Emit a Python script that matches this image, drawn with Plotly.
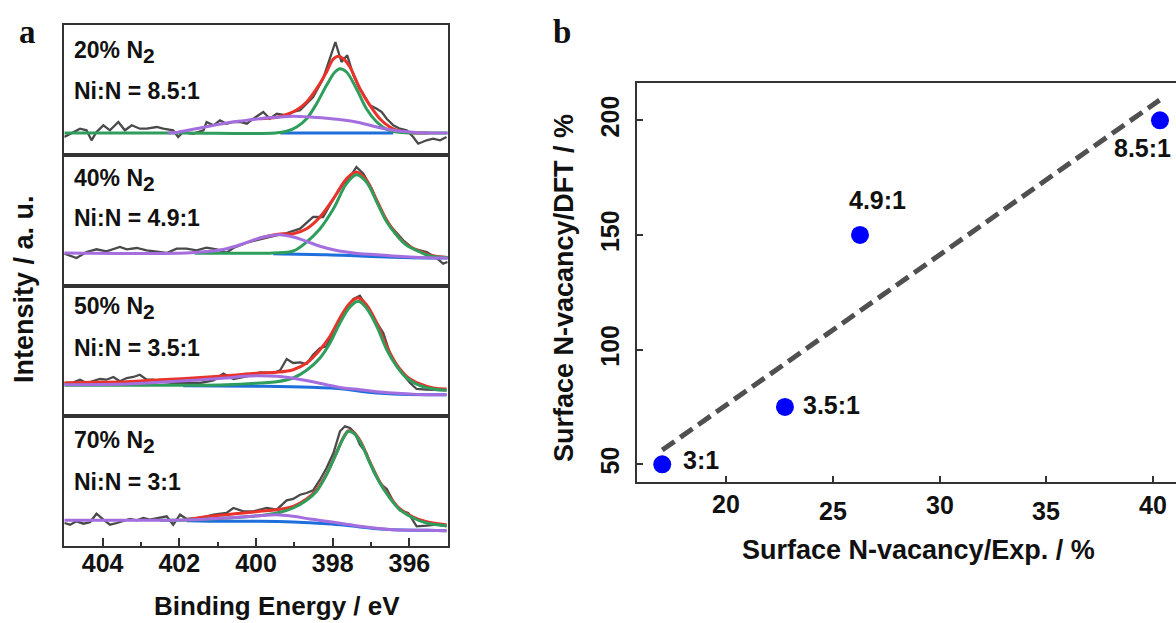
import plotly.graph_objects as go

W, H = 1176, 623

# ---------------- Panel a data (binding energy in eV, intensity in a.u.) ----------------
SUB2 = '<sub><span style="font-size:21px">2</span></sub>'
labels_a = ["20% N" + SUB2, "40% N" + SUB2, "50% N" + SUB2, "70% N" + SUB2]
ratios_a = ["Ni:N = 8.5:1", "Ni:N = 4.9:1", "Ni:N = 3.5:1", "Ni:N = 3:1"]

# subpanel 1 (20% N2)
raw1_e = [405.00, 404.76, 404.59, 404.42, 404.29, 404.16, 403.98, 403.81, 403.59, 403.42, 403.24, 403.03,
          402.85, 402.59, 402.42, 402.16, 402.03, 401.90, 401.64, 401.37, 401.29, 401.11, 400.94, 400.77,
          400.59, 400.42, 400.24, 400.07, 399.81, 399.64, 399.46, 399.20, 399.03, 398.85, 398.68, 398.51,
          398.25, 398.07, 397.93, 397.77, 397.62, 397.46, 397.29, 397.03, 396.85, 396.72, 396.59, 396.42,
          396.25, 396.07, 395.90, 395.77, 395.55, 395.38, 395.20, 395.03]
raw1_i = [18.0, 23.0, 26.3, 24.7, 14.7, 23.0, 29.7, 24.7, 33.0, 24.7, 29.7, 26.3,
          26.3, 28.0, 26.3, 24.7, 18.0, 23.0, 21.3, 24.7, 33.0, 29.7, 34.7, 31.3,
          33.0, 33.0, 31.3, 36.3, 43.0, 36.3, 41.3, 39.7, 43.0, 44.7, 51.3, 58.0,
          76.3, 96.3, 113.0, 93.0, 99.7, 79.7, 66.3, 49.7, 46.3, 43.0, 36.3, 29.7,
          26.3, 24.7, 18.0, 11.3, 14.7, 16.3, 14.7, 18.0]
green1_e = [405.0, 402.0, 399.5, 399.20, 398.94, 398.68, 398.42, 398.16, 397.94, 397.81, 397.64, 397.38,
            397.12, 396.85, 396.59, 396.33, 395.98, 395.5, 395.0]
green1_i = [22, 22, 22, 23.7, 28, 36.3, 51.3, 69.7, 83, 86.3, 83, 66.3,
            46.3, 33, 25.7, 23, 22, 22, 22]
purple1_e = [402.3, 402.07, 401.64, 401.20, 400.77, 400.33, 399.90, 399.46, 399.03, 398.59, 398.16, 397.72,
             397.29, 396.85, 396.42, 395.98, 395.55, 395.0]
purple1_i = [22, 22.6, 25.7, 29, 32, 34.3, 36.3, 37.7, 38.7, 38, 36.7, 35,
             32.3, 28, 24.7, 23, 22, 22]
red1_e = [399.90, 399.46, 399.20, 398.94, 398.68, 398.42, 398.16, 397.99, 397.86, 397.72, 397.55, 397.29,
          397.03, 396.77, 396.51, 396.33, 395.98, 395.5]
red1_i = [36.3, 37.7, 40.5, 45, 53, 66.3, 83, 95.7, 98.7, 96.3, 88, 66.3,
          49.7, 36.3, 28, 24.7, 22.3, 22]
blue1_e = [399.37, 396.42]
blue1_i = [22, 22]

# subpanel 2 (40% N2)
raw2_e = [405.00, 404.68, 404.42, 404.16, 403.90, 403.72, 403.55, 403.37, 403.11, 402.85, 402.59, 402.33,
          402.07, 401.81, 401.55, 401.29, 401.03, 400.77, 400.59, 400.24, 399.90, 399.55, 399.20, 398.85,
          398.51, 398.25, 397.98, 397.72, 397.51, 397.38, 397.20, 396.98, 396.77, 396.51, 396.16, 395.90,
          395.55, 395.29, 395.12, 395.00]
raw2_i = [32.3, 28.0, 34.0, 36.7, 34.7, 37.3, 39.0, 36.7, 38.0, 35.7, 34.7, 33.0,
          37.3, 37.3, 35.7, 38.3, 36.7, 33.3, 38.0, 43.3, 46.7, 49.7, 53.0, 57.3,
          69.0, 69.0, 87.3, 102.3, 111.3, 119.0, 112.3, 97.3, 77.3, 60.7, 45.7, 37.3,
          34.0, 28.0, 22.3, 24.0]
green2_e = [401.6, 400.5, 399.55, 399.03, 398.68, 398.33, 397.98, 397.64, 397.38, 397.12, 396.85, 396.59,
            396.33, 396.07, 395.72, 395.46, 395.0]
green2_i = [32.8, 32.7, 33.0, 35.0, 44.0, 57.3, 77.3, 102.3, 111.3, 104.0, 84.0, 64.0,
            50.7, 40.7, 34.0, 30.0, 28.5]
purple2_e = [405.0, 401.81, 401.20, 400.77, 400.33, 399.90, 399.55, 399.37, 399.03, 398.68, 398.33, 397.98,
             397.64, 397.29, 396.85, 396.42, 395.98, 395.55, 395.0]
purple2_i = [33, 33, 34.7, 37.3, 42.3, 48, 50.7, 51.3, 49, 44.7, 39.7, 36.3,
             34, 32.3, 31.3, 30, 29, 28.3, 28]
red2_e = [399.90, 399.37, 399.03, 398.68, 398.33, 397.98, 397.64, 397.38, 397.12, 396.85, 396.59, 396.33,
          396.07, 395.72, 395.46, 395.0]
red2_i = [48, 52, 52.3, 57.3, 69, 87.3, 107.3, 114, 105.7, 85.7, 65.7, 51.3,
          41.3, 34.7, 30.7, 28.5]
blue2_e = [399.55, 398.16, 397.29, 396.42, 395.55, 395.0]
blue2_i = [32.3, 31.3, 30, 28.7, 28, 28]

# subpanel 3 (50% N2)
raw3_e = [405.00, 404.76, 404.59, 404.42, 404.07, 403.90, 403.72, 403.55, 403.37, 403.20, 403.03, 402.85,
          402.68, 402.51, 402.16, 401.81, 401.46, 401.11, 400.85, 400.59, 400.24, 399.90, 399.55, 399.37,
          399.20, 399.03, 398.85, 398.68, 398.51, 398.33, 398.16, 397.90, 397.64, 397.46, 397.29, 397.12,
          396.90, 396.68, 396.51, 396.25, 395.98, 395.81, 395.55, 395.29, 395.03]
raw3_i = [33.0, 33.7, 36.3, 33.0, 37.0, 36.3, 39.0, 34.7, 38.0, 39.0, 41.3, 36.3,
          36.3, 34.3, 33.0, 33.0, 33.0, 35.7, 42.3, 37.0, 39.7, 43.7, 43.0, 45.7,
          57.0, 53.0, 53.7, 52.0, 61.3, 68.0, 69.7, 89.7, 108.0, 117.0, 120.3, 109.7,
          96.3, 83.0, 63.0, 45.7, 33.0, 27.0, 26.3, 25.7, 25.7]
green3_e = [405.0, 403.37, 401.64, 400.77, 399.90, 399.46, 399.03, 398.68, 398.33, 398.07, 397.81, 397.55,
            397.33, 397.12, 396.85, 396.59, 396.33, 396.07, 395.72, 395.38, 395.03]
green3_i = [30.7, 30.7, 30.7, 31.3, 33, 34.3, 38, 45.7, 58, 73, 93, 109,
            114.7, 108, 89.7, 66.3, 49.7, 38, 30.3, 27, 25.7]
purple3_e = [405.0, 403.37, 402.51, 401.64, 400.77, 400.33, 399.90, 399.46, 399.03, 398.59, 398.16, 397.72,
             397.29, 396.85, 396.42, 395.98, 395.55, 395.03]
purple3_i = [31.3, 32, 33.7, 35.7, 38, 39.7, 40.3, 39.7, 37.7, 34.7, 31.3, 28,
             26.3, 24.3, 23, 22, 21.3, 21.3]
red3_e = [405.0, 404.24, 403.37, 402.51, 401.64, 400.77, 399.90, 399.46, 399.03, 398.68, 398.33, 398.07,
          397.81, 397.55, 397.33, 397.12, 396.85, 396.59, 396.33, 396.07, 395.72, 395.38, 395.03]
red3_i = [33, 33.7, 34.3, 36.3, 38, 40.3, 43, 43.7, 46.3, 53, 66.3, 79.7,
          98, 113, 118, 111.3, 93, 69.7, 51.3, 39.7, 32, 28, 27]
blue3_e = [401.9, 399.90, 398.59, 397.72, 397.29, 396.85, 396.42, 395.55, 395.03]
blue3_i = [30.3, 29.7, 28.7, 27, 24.7, 23, 22, 21.3, 21.3]

# subpanel 4 (70% N2)
raw4_e = [405.00, 404.85, 404.68, 404.50, 404.33, 404.16, 403.98, 403.81, 403.63, 403.46, 403.29, 403.11,
          402.94, 402.77, 402.51, 402.33, 402.16, 401.98, 401.81, 401.46, 401.11, 400.77, 400.59, 400.33,
          400.07, 399.72, 399.46, 399.20, 399.03, 398.85, 398.68, 398.51, 398.33, 398.16, 397.98, 397.81,
          397.68, 397.55, 397.42, 397.29, 397.12, 396.94, 396.77, 396.59, 396.42, 396.25, 396.03, 395.81,
          395.55, 395.29, 395.03]
raw4_i = [23.0, 21.3, 24.7, 22.3, 23.7, 32.3, 26.3, 21.3, 23.0, 24.7, 27.0, 25.7,
          28.0, 26.3, 28.0, 29.7, 21.3, 31.3, 27.0, 28.0, 31.3, 33.0, 38.0, 34.7,
          34.7, 38.0, 36.3, 45.7, 47.0, 51.3, 53.0, 55.7, 66.3, 78.0, 93.0, 114.7,
          119.7, 118.0, 113.0, 101.3, 93.0, 74.7, 63.0, 57.0, 44.7, 35.7, 33.0, 19.7,
          20.3, 21.3, 19.7]
green4_e = [402.5, 402.07, 401.20, 400.33, 399.72, 399.37, 399.03, 398.68, 398.42, 398.16, 397.90, 397.72,
            397.59, 397.46, 397.29, 397.03, 396.77, 396.51, 396.25, 395.90, 395.55, 395.03]
green4_i = [25.7, 25.7, 27, 29, 31.3, 33.7, 38, 45.7, 54.7, 71.3, 93, 108,
            114.7, 113, 104.7, 83, 63, 48, 36.3, 28, 23, 20.3]
purple4_e = [405.0, 402.51, 401.64, 400.77, 399.90, 399.46, 399.03, 398.59, 398.16, 397.72, 397.29, 396.85,
             396.42, 395.55, 395.03]
purple4_i = [25.7, 25.7, 26.3, 28, 30.3, 31.3, 29.7, 27, 24.7, 22.3, 19.7, 17.7,
             16.3, 15.7, 15.3]
red4_e = [401.81, 401.20, 400.77, 400.33, 399.90, 399.46, 399.03, 398.68, 398.42, 398.16, 397.90, 397.72,
          397.59, 397.46, 397.29, 397.03, 396.77, 396.51, 396.25, 395.90, 395.55, 395.03]
red4_i = [26.3, 29.7, 31.3, 33, 34.7, 36.3, 39.7, 47, 56.3, 72, 93.5, 108.5,
          115, 113.7, 105.7, 84, 64, 49, 37.3, 29, 24.3, 21.3]
blue4_e = [401.81, 400.77, 399.90, 399.03, 398.16, 397.72, 397.29, 396.85, 396.42, 395.55, 395.03]
blue4_i = [25.3, 24.7, 24.7, 24, 22.3, 21, 19, 17.3, 16.3, 15.7, 15.3]

be_ticks = [396, 398, 400, 402, 404]
be_minor = [397, 399, 401, 403]

# ---------------- Panel b data ----------------
ratio_labels = ["3:1", "3.5:1", "4.9:1", "8.5:1"]
vac_exp = [17.03, 22.77, 26.28, 40.31]
vac_dft = [50, 75, 150, 200]
fit_x = [17.03, 40.29]
fit_y = [56.2, 208.8]
b_xticks = [20, 25, 30, 35, 40]
b_yticks = [50, 100, 150, 200]

# ---------------- layout helpers ----------------
def px_x(p):
    return p / W

def px_y(p):
    return 1 - p / H

C_RAW = "#4a4a4a"
C_RED = "#e8322a"
C_GREEN = "#2f9e5c"
C_PURPLE = "#a46ede"
C_BLUE = "#1e6fdc"
C_FRAME = "#333333"
FONT = "Liberation Sans, Arial, sans-serif"

fig = go.Figure()

sub_tops = [25, 155, 286, 416]
sub_bots = [155, 286, 416, 546]
panels = [
    (raw1_e, raw1_i, blue1_e, blue1_i, red1_e, red1_i, green1_e, green1_i, purple1_e, purple1_i),
    (raw2_e, raw2_i, blue2_e, blue2_i, red2_e, red2_i, green2_e, green2_i, purple2_e, purple2_i),
    (raw3_e, raw3_i, blue3_e, blue3_i, red3_e, red3_i, green3_e, green3_i, purple3_e, purple3_i),
    (raw4_e, raw4_i, blue4_e, blue4_i, red4_e, red4_i, green4_e, green4_i, purple4_e, purple4_i),
]

for k, (re_, ri, be, bi, rde, rdi, ge, gi, pe, pi) in enumerate(panels):
    ax = "" if k == 0 else str(k + 1)
    xa, ya = "x" + ax, "y" + ax
    fig.add_trace(go.Scatter(x=re_, y=ri, mode="lines", line=dict(color=C_RAW, width=2.3),
                             xaxis=xa, yaxis=ya, showlegend=False))
    fig.add_trace(go.Scatter(x=be, y=bi, mode="lines", line=dict(color=C_BLUE, width=3, shape="spline"),
                             xaxis=xa, yaxis=ya, showlegend=False))
    fig.add_trace(go.Scatter(x=rde, y=rdi, mode="lines", line=dict(color=C_RED, width=3, shape="spline"),
                             xaxis=xa, yaxis=ya, showlegend=False))
    fig.add_trace(go.Scatter(x=ge, y=gi, mode="lines", line=dict(color=C_GREEN, width=3, shape="spline"),
                             xaxis=xa, yaxis=ya, showlegend=False))
    fig.add_trace(go.Scatter(x=pe, y=pi, mode="lines", line=dict(color=C_PURPLE, width=3, shape="spline"),
                             xaxis=xa, yaxis=ya, showlegend=False))

    last = (k == 3)
    xaxis = dict(domain=[px_x(64.3), px_x(447.7)], range=[405, 395], anchor=ya,
                 showline=True, mirror=True, linecolor=C_FRAME, linewidth=1.5,
                 showgrid=False, zeroline=False, fixedrange=True)
    if last:
        xaxis.update(ticks="inside", ticklen=8, tickwidth=1.5, tickcolor=C_FRAME,
                     tickvals=be_ticks, ticktext=[str(v) for v in be_ticks],
                     tickfont=dict(family=FONT, size=25, color="#111", weight="bold"),
                     minor=dict(ticks="inside", ticklen=4, tickwidth=1.5, tickcolor=C_FRAME,
                                tickvals=be_minor),
                     ticklabelstandoff=-6)
    else:
        xaxis.update(showticklabels=False, ticks="")
    yaxis = dict(domain=[px_y(sub_bots[k]), px_y(sub_tops[k])],
                 range=[0, sub_bots[k] - sub_tops[k]], anchor=xa,
                 showline=True, mirror=True, linecolor=C_FRAME, linewidth=1.5,
                 showgrid=False, zeroline=False, showticklabels=False, ticks="", fixedrange=True)
    fig.layout["xaxis" + ax] = xaxis
    fig.layout["yaxis" + ax] = yaxis

# ---------------- panel b traces ----------------
fig.add_trace(go.Scatter(x=fit_x, y=fit_y, mode="lines",
                         line=dict(color="#505050", width=5, dash="15px,7px"),
                         xaxis="x5", yaxis="y5", showlegend=False))
fig.add_trace(go.Scatter(x=vac_exp, y=vac_dft, mode="markers",
                         marker=dict(color="#0000ff", size=18, line=dict(width=0)),
                         xaxis="x5", yaxis="y5", showlegend=False))

fig.layout["xaxis5"] = dict(domain=[px_x(637), 1], range=[15.85, 41.06], anchor="y5",
                            showline=True, mirror=True, linecolor=C_FRAME, linewidth=1.5,
                            showgrid=False, zeroline=False, ticks="inside", ticklen=6, tickwidth=1.5,
                            tickcolor=C_FRAME, tickvals=b_xticks, showticklabels=False)
fig.layout["yaxis5"] = dict(domain=[px_y(481.7), px_y(82.7)], range=[42.4, 216.4], anchor="x5",
                            showline=True, mirror=False, linecolor=C_FRAME, linewidth=1.5,
                            showgrid=False, zeroline=False, ticks="inside", ticklen=6, tickwidth=1.5,
                            tickcolor=C_FRAME, tickvals=b_yticks, tickangle=-90,
                            tickfont=dict(family=FONT, size=25, color="#111", weight="bold"),
                            ticklabelstandoff=6)

annotations = []
bold = dict(family=FONT, color="#111", weight="bold")

# panel a subpanel labels
line1_c = [52, 180, 308, 442]
line2_c = [91, 218, 348, 482]
for k in range(4):
    annotations.append(dict(text=labels_a[k], x=px_x(72), y=px_y(line1_c[k]), xref="paper", yref="paper",
                            xanchor="left", yanchor="middle", showarrow=False, font=dict(size=23, **bold)))
    annotations.append(dict(text=ratios_a[k], x=px_x(72), y=px_y(line2_c[k]), xref="paper", yref="paper",
                            xanchor="left", yanchor="middle", showarrow=False, font=dict(size=23, **bold)))

# axis titles
annotations += [
    dict(text="Binding Energy / eV", x=px_x(277), y=px_y(606), xref="paper", yref="paper",
         xanchor="center", yanchor="middle", showarrow=False, font=dict(size=26, **bold)),
    dict(text="Intensity / a. u.", x=px_x(24), y=px_y(289), xref="paper", yref="paper", textangle=-90,
         xanchor="center", yanchor="middle", showarrow=False, font=dict(size=27, **bold)),
    dict(text="Surface N-vacancy/Exp. / %", x=px_x(918), y=px_y(550), xref="paper", yref="paper",
         xanchor="center", yanchor="middle", showarrow=False, font=dict(size=27, **bold)),
    dict(text="Surface N-vacancy/DFT / %", x=px_x(564), y=px_y(288), xref="paper", yref="paper",
         textangle=-90, xanchor="center", yanchor="middle", showarrow=False, font=dict(size=27, **bold)),
    dict(text="a", x=px_x(27), y=px_y(32), xref="paper", yref="paper", xanchor="center", yanchor="middle",
         showarrow=False, font=dict(family="Liberation Serif, Times New Roman, serif", size=33,
                                    color="#111", weight="bold")),
    dict(text="b", x=px_x(562), y=px_y(32), xref="paper", yref="paper", xanchor="center", yanchor="middle",
         showarrow=False, font=dict(family="Liberation Serif, Times New Roman, serif", size=33,
                                    color="#111", weight="bold")),
]

# panel b x tick labels (alternate ones sit slightly lower, as in the original)
tick_y = [504, 511, 505, 511, 505]
for v, ty in zip(b_xticks, tick_y):
    annotations.append(dict(text=str(v), x=v, y=px_y(ty), xref="x5", yref="paper", xanchor="center",
                            yanchor="middle", showarrow=False, font=dict(size=25, **bold)))

# panel b point labels
lab_pos = [(18.84, 51.9), (24.93, 75.9), (27.08, 165.3), (39.47, 188.0)]
for t, (lx, ly) in zip(ratio_labels, lab_pos):
    annotations.append(dict(text=t, x=lx, y=ly, xref="x5", yref="y5", xanchor="center", yanchor="middle",
                            showarrow=False, font=dict(size=25, **bold)))

fig.update_layout(width=W, height=H, autosize=False, margin=dict(l=0, r=0, t=0, b=0),
                  paper_bgcolor="white", plot_bgcolor="white", showlegend=False,
                  annotations=annotations)

fig.write_html("out.html")
